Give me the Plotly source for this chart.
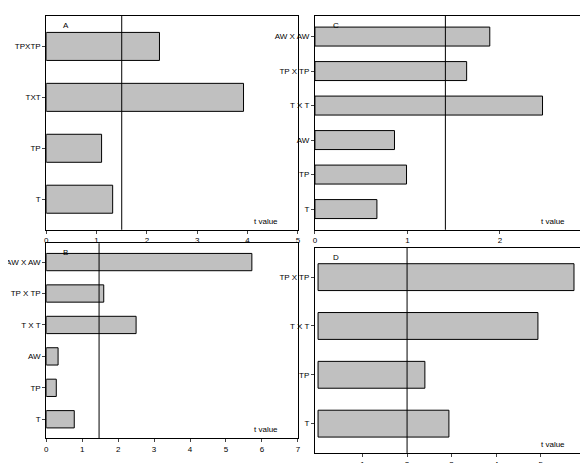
import plotly.graph_objects as go

# panel A
cats_a = ["T", "TP", "TXT", "TPXTP"]
vals_a = [1.32, 1.1, 3.92, 2.25]
# panel B
cats_b = ["T", "TP", "AW", "T X T", "TP X TP", "AW X AW"]
vals_b = [0.78, 0.28, 0.33, 2.5, 1.6, 5.72]
# panel C
cats_c = ["T", "TP", "AW", "T X T", "TP X TP", "AW X AW"]
vals_c = [0.67, 0.99, 0.86, 2.46, 1.64, 1.89]
# panel D
cats_d = ["T", "TP", "T X T", "TP X TP"]
vals_d = [2.94, 2.4, 4.94, 5.75]

# critical t lines as drawn in each panel
crit = {"A": 1.5, "B": 1.47, "C": 1.41, "D": 2.0}

panels = [
    # name, cats, vals, xdomain, ydomain, xrange, ticks
    ("A", cats_a, vals_a, [0.065, 0.493], [0.521, 0.983], [0, 5], list(range(6))),
    ("B", cats_b, vals_b, [0.065, 0.493], [0.071, 0.492], [0, 7], list(range(8))),
    ("C", cats_c, vals_c, [0.522, 0.983], [0.521, 0.983], [0, 2.93], list(range(4))),
    ("D", cats_d, vals_d, [0.522, 0.983], [0.039, 0.482], [-0.07, 6.02], list(range(1, 7))),
]

fig = go.Figure()
font = dict(family="Arial, Liberation Sans", size=8, color="#000000")

for i, (name, cats, vals, xd, yd, xr, ticks) in enumerate(panels):
    n = "" if i == 0 else str(i + 1)
    xa, ya = "x" + n, "y" + n
    fig.add_trace(go.Bar(
        x=vals, y=cats, orientation="h", xaxis=xa, yaxis=ya,
        marker=dict(color="#c0c0c0", line=dict(color="black", width=1)),
        width=0.55, showlegend=False,
    ))
    fig.add_shape(type="line", xref=xa, yref=ya + " domain",
                  x0=crit[name], x1=crit[name], y0=0, y1=1,
                  line=dict(color="black", width=1))
    fig.add_annotation(text=name, xref=xa + " domain", yref=ya + " domain",
                       x=0.06, y=0.985, xanchor="left", yanchor="top",
                       showarrow=False, font=font)
    fig.add_annotation(text="t value", xref=xa + " domain", yref=ya + " domain",
                       x=0.93, y=0.01, xanchor="right", yanchor="bottom",
                       showarrow=False, font=font)
    fig.layout["xaxis" + n] = dict(
        domain=xd, range=xr, anchor=ya, tickvals=ticks, ticks="outside",
        ticklen=3, showline=True, linecolor="black", mirror=True,
        showgrid=False, zeroline=False, tickfont=font, automargin=False)
    fig.layout["yaxis" + n] = dict(
        domain=yd, anchor=xa, ticks="outside", ticklen=3, showline=True,
        linecolor="black", mirror=True, showgrid=False, tickfont=font,
        range=[-0.6, len(cats) - 0.4], automargin=False)

fig.update_layout(width=588, height=463, margin=dict(l=0, r=0, t=0, b=0),
                  plot_bgcolor="white", paper_bgcolor="white", bargap=0.3)
fig.write_html("out.html")
